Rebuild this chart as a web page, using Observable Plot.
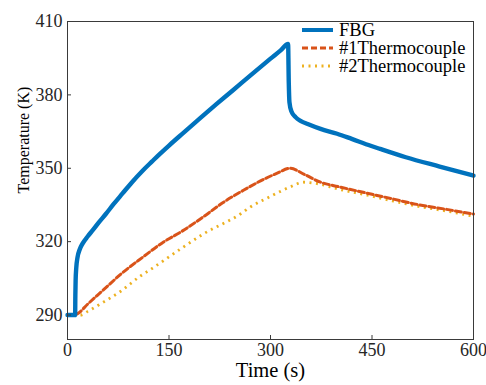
<!DOCTYPE html>
<html>
<head>
<meta charset="utf-8">
<script src="https://cdn.jsdelivr.net/npm/d3@7"></script>
<script src="https://cdn.jsdelivr.net/npm/@observablehq/plot@0.6"></script>
<style>
  html, body { margin: 0; padding: 0; background: #fff; }
  #wrap { position: relative; width: 486px; height: 385px; font-family: "Times New Roman", "Liberation Serif", "DejaVu Serif", serif; }
  #wrap svg text { font-family: "Times New Roman", "Liberation Serif", "DejaVu Serif", serif; }
  #legend { position: absolute; left: 302px; top: 21px; font-size: 18.5px; line-height: 16px; color: #000; }
  .row { display: flex; align-items: center; height: 18.2px; }
  .row svg { margin-right: 6px; }
</style>
</head>
<body>
<div id="wrap"></div>
<script>
const xTicks = [0, 150, 300, 450, 600];
const yTicks = [290, 320, 350, 380, 410];
const seriesNames = ["FBG", "#1Thermocouple", "#2Thermocouple"];
const seriesColors = ["#0072BD", "#D95319", "#EDB120"];

const fbgTime = [0, 10, 11.3, 11.6, 12, 13, 14.8, 18, 22, 30, 37, 46, 56.6, 68, 81, 95, 111, 125, 137, 150, 170, 196.5, 220, 245, 270, 300, 315, 326, 327, 328, 331, 337, 345, 355, 374, 398.5, 420, 448, 462, 500, 550, 600];
const fbgTemp = [290, 290, 290, 298, 304, 309.5, 313.6, 316.8, 319.1, 322.2, 324.6, 327.8, 331.3, 335.3, 339.6, 344.2, 349, 352.8, 356, 359.3, 364.2, 370.6, 376.2, 382, 387.9, 394.8, 398.2, 400.8, 385, 377, 373.2, 370.9, 369.3, 368.1, 366.1, 364.1, 362, 359.2, 357.9, 354.5, 350.7, 347];

const tc1Time = [0, 9.4, 15, 30, 52, 80, 111, 140, 170, 200, 230, 260, 290, 310, 329, 350, 374, 400, 443, 480, 517, 560, 600];
const tc1Temp = [290, 290, 290.6, 294.5, 300, 307, 313.6, 319.5, 324.4, 330, 336, 341, 345.5, 348, 350, 347.5, 344.3, 342.5, 339.8, 337.5, 335.2, 333.2, 331.3];

const tc2Time = [0, 19, 30, 49, 80, 108, 122, 167, 200, 256, 270, 300, 330, 349, 369, 400, 443, 480, 517, 560, 600];
const tc2Temp = [290, 290, 291.5, 294.6, 300, 306, 308.5, 317, 323, 331.4, 334.1, 338.5, 342.5, 344.3, 343.7, 341.5, 339, 336.7, 334.5, 332.5, 330.4];

const fbg = fbgTime.map((t, i) => ({t, v: fbgTemp[i]}));
const tc1 = tc1Time.map((t, i) => ({t, v: tc1Temp[i]}));
const tc2 = tc2Time.map((t, i) => ({t, v: tc2Temp[i]}));

const font = '"Times New Roman", "Liberation Serif", "DejaVu Serif", serif';

const chart = Plot.plot({
  width: 486,
  height: 385,
  marginLeft: 67,
  marginRight: 13,
  marginTop: 21,
  marginBottom: 46,
  style: {fontFamily: font, background: "#fff", color: "#262626"},
  x: {domain: [0, 600]},
  y: {domain: [280, 410]},
  marks: [
    Plot.line(tc2, {x: "t", y: "v", stroke: seriesColors[2], strokeWidth: 2.8, strokeDasharray: "2 4.5", strokeLinecap: "butt", curve: "monotone-x"}),
    Plot.line(tc1, {x: "t", y: "v", stroke: seriesColors[1], strokeWidth: 3, strokeDasharray: "6 3", curve: "monotone-x"}),
    Plot.line(fbg, {x: "t", y: "v", stroke: seriesColors[0], strokeWidth: 4.4, curve: "monotone-x"}),
    Plot.frame({stroke: "#3a3a3a", strokeWidth: 1}),
    Plot.axisX({ticks: xTicks, tickSize: -4, tickPadding: 8, fontSize: 18, fontFamily: font, label: null, stroke: "#3a3a3a", fill: "#262626"}),
    Plot.axisY({ticks: yTicks, tickSize: -4, tickPadding: 9, fontSize: 18, fontFamily: font, label: null, stroke: "#3a3a3a", fill: "#262626"}),
    Plot.text(["Time (s)"], {frameAnchor: "bottom", dy: 37, fontSize: 20.5, fontFamily: font, fill: "#000"}),
    Plot.text(["Temperature (K)"], {frameAnchor: "left", dx: -44, dy: 13, rotate: -90, fontSize: 16, fontFamily: font, fill: "#000"})
  ]
});

const wrap = document.getElementById("wrap");
wrap.appendChild(chart);

const legend = document.createElement("div");
legend.id = "legend";
const dashes = [null, "6 3", "2 4.5"];
const widths = [4, 3, 2.8];
seriesNames.forEach((name, i) => {
  const row = document.createElement("div");
  row.className = "row";
  const svg = d3.create("svg").attr("width", 31).attr("height", 8);
  svg.append("line").attr("x1", 0).attr("x2", 31).attr("y1", 4).attr("y2", 4)
    .attr("stroke", seriesColors[i]).attr("stroke-width", widths[i])
    .attr("stroke-dasharray", dashes[i]);
  row.appendChild(svg.node());
  const span = document.createElement("span");
  span.textContent = name;
  row.appendChild(span);
  legend.appendChild(row);
});
wrap.appendChild(legend);
</script>
</body>
</html>
